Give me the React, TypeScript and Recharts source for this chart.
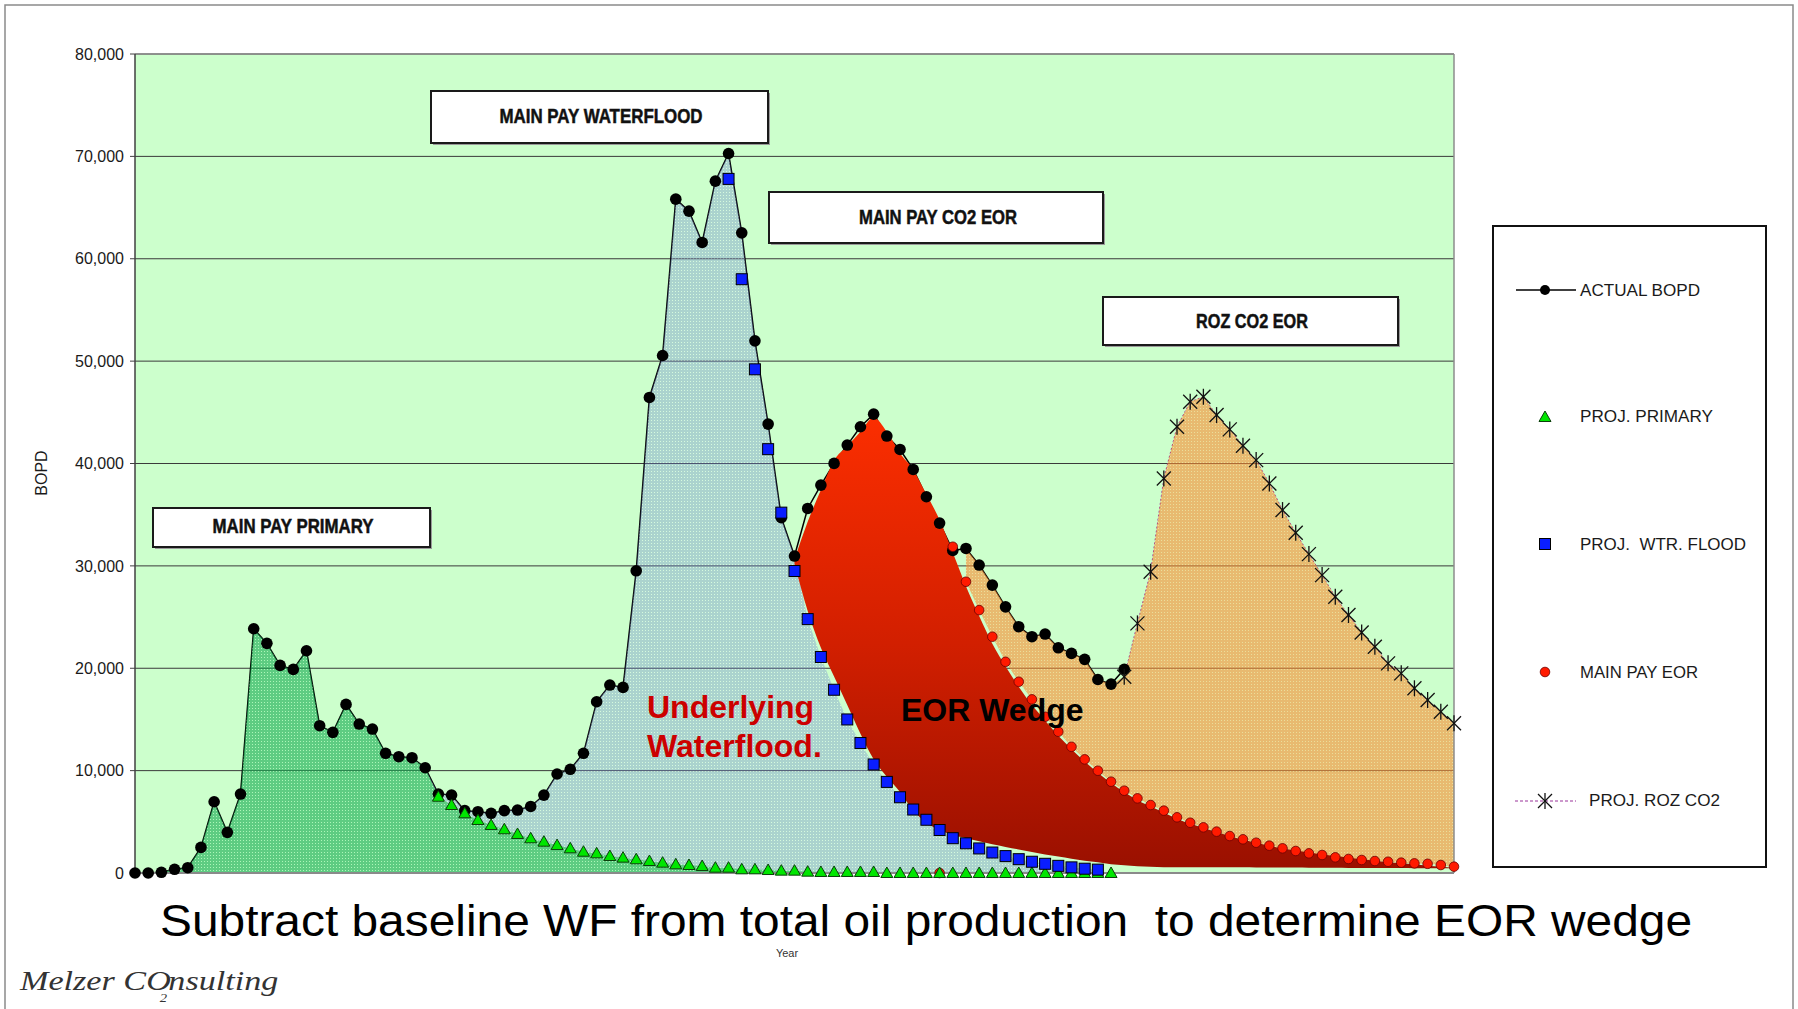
import React from "react";
import {
  Area,
  CartesianGrid,
  ComposedChart,
  Line,
  ReferenceLine,
  XAxis,
  YAxis,
} from "recharts";

const FONT = '"Liberation Sans", Arial, sans-serif';

// one point per period along the category axis
const PERIODS = Array.from({ length: 101 }, (_, i) => i);
const X_TICKS = [0, 5, 10, 15, 20, 25, 30, 35, 40, 45, 50, 55, 60, 65, 70, 75, 80, 85, 90, 95, 100];
const Y_TICKS = [0, 10000, 20000, 30000, 40000, 50000, 60000, 70000, 80000];

// ACTUAL BOPD, periods 0..75
const ACTUAL_START = 0;
const ACTUAL_BOPD = [
  0, 0, 70, 360, 520, 2500, 6960, 3970, 7710, 23860, 22430, 20280, 19890, 21710, 14390, 13740,
  16470, 14550, 14060, 11690, 11360, 11260, 10280, 7710, 7610, 6090, 5990, 5830, 6090, 6150, 6500,
  7610, 9670, 10130, 11690, 16730, 18360, 18130, 29520, 46450, 50550, 65820, 64650, 61590, 67580,
  70280, 62530, 51980, 43850, 34700, 30960, 35610, 37890, 40010, 41800, 43590, 44820, 42680, 41370,
  39420, 36750, 34180, 31500, 31700, 30080, 28120, 26000, 24060, 23080, 23340, 22000, 21450, 20870,
  18900, 18450, 19900,
];

// PROJ. PRIMARY, periods 23..74
const PRIMARY_START = 23;
const PROJ_PRIMARY = [
  7450, 6640, 5830, 5180, 4690, 4270, 3810, 3390, 3060, 2730, 2410, 2080, 1920, 1660, 1500, 1340,
  1170, 1010, 850, 780, 680, 520, 520, 360, 360, 290, 230, 230, 130, 100, 100, 100, 100, 100, 0, 0,
  0, 0, 0, 0, 0, 0, 0, 0, 0, 0, 0, 0, 0, 0, 0, 0,
];

// PROJ. WTR. FLOOD, periods 45..73
const WTR_FLOOD_START = 45;
const PROJ_WTR_FLOOD = [
  67800, 58000, 49200, 41400, 35200, 29500, 24800, 21100, 17900, 15000, 12700, 10600, 8900, 7400,
  6200, 5200, 4200, 3400, 2900, 2400, 2000, 1650, 1350, 1100, 900, 700, 550, 420, 330,
];

// MAIN PAY EOR, periods 61..100
const EOR_START = 61;
const MAIN_PAY_EOR = [
  0, 31870, 28450, 25680, 23080, 20630, 18680, 16960, 15260, 13800, 12330, 11100, 9990, 8920, 8040,
  7290, 6640, 6090, 5440, 4910, 4460, 4040, 3610, 3290, 2960, 2670, 2410, 2150, 1920, 1760, 1530,
  1370, 1270, 1170, 1100, 1010, 940, 900, 780, 620,
];

// PROJ. ROZ CO2, periods 75..100
const ROZ_START = 75;
const PROJ_ROZ_CO2 = [
  19170, 24380, 29430, 38540, 43590, 46030, 46520, 44730, 43330, 41730, 40330, 38050, 35450, 33230,
  31150, 29100, 26980, 25200, 23500, 22100, 20480, 19500, 18040, 16900, 15750, 14620,
];

// EOR wedge, lower and upper edge, periods 50..100
const WEDGE_START = 50;
const WEDGE_LOW = [
  30200, 25600, 22000, 19200, 16400, 13600, 11100, 9400, 7900, 6100, 4900, 4200, 3700, 3400, 3100,
  2800, 2550, 2300, 2050, 1800, 1600, 1400, 1200, 1050, 850, 750, 650, 600, 560, 560, 560, 550, 550,
  550, 550, 540, 540, 530, 530, 520, 520, 510, 500, 500, 490, 480, 480, 470, 470, 460, 460,
];
const WEDGE_HIGH = [
  30600, 34300, 37400, 40300, 41700, 43100, 44500, 43100, 41000, 39400, 37000, 34500, 31300, 28000,
  25100, 22400, 20200, 18200, 16400, 14900, 13400, 12100, 10900, 9800, 8800, 7900, 7100, 6500, 5900,
  5300, 4800, 4400, 4000, 3600, 3250, 2950, 2650, 2400, 2200, 2000, 1800, 1650, 1500, 1350, 1200,
  1050, 950, 850, 720, 600, 480,
];

// shaded bands switch from actual history to the projection here
const FLOOD_HANDOFF = 50;
const ROZ_BAND_START = 63;

const at = (arr: number[], start: number, i: number): number | null => {
  const v = arr[i - start];
  return v === undefined || i < start ? null : v;
};

const rows = PERIODS.map((i) => {
  const actual = at(ACTUAL_BOPD, ACTUAL_START, i);
  const primary = at(PROJ_PRIMARY, PRIMARY_START, i);
  const wf = at(PROJ_WTR_FLOOD, WTR_FLOOD_START, i);
  const eor = at(MAIN_PAY_EOR, EOR_START, i);
  const roz = at(PROJ_ROZ_CO2, ROZ_START, i);
  const lo = at(WEDGE_LOW, WEDGE_START, i);
  const hi = at(WEDGE_HIGH, WEDGE_START, i);

  const primaryTop = i < PRIMARY_START ? actual : primary;
  const floodTop = i <= FLOOD_HANDOFF ? actual : wf;
  const rozTop = i < ROZ_START ? actual : roz;

  return {
    i,
    actual,
    primary,
    wf,
    eor,
    roz,
    primaryBand: primaryTop,
    floodBand:
      i >= PRIMARY_START - 1 && floodTop != null ? [primaryTop ?? 0, floodTop] : null,
    rozBand: i >= ROZ_BAND_START && eor != null && rozTop != null ? [eor, rozTop] : null,
    wedge: lo != null && hi != null ? [lo, hi] : null,
  };
});

type Pt = { x: number; y: number };

const BlackDot = ({ x, y }: Pt) => <circle cx={x} cy={y} r={5.8} fill="#000" />;
const RedDot = ({ x, y }: Pt) => (
  <circle cx={x} cy={y} r={4.8} fill="#ff1a00" stroke="#6a0000" strokeWidth={0.8} />
);
const Triangle = ({ x, y }: Pt) => (
  <polygon
    points={`${x},${y - 6} ${x + 6},${y + 4.5} ${x - 6},${y + 4.5}`}
    fill="#00e600"
    stroke="#0b3f0b"
    strokeWidth={1}
  />
);
const Square = ({ x, y }: Pt) => (
  <rect x={x - 5.5} y={y - 5.5} width={11} height={11} fill="#0a1eff" stroke="#000" strokeWidth={1} />
);
const Asterisk = ({ x, y }: Pt) => (
  <g stroke="#111" strokeWidth={1.3} strokeDasharray="none">
    <line x1={x - 7} y1={y - 7} x2={x + 7} y2={y + 7} />
    <line x1={x - 7} y1={y + 7} x2={x + 7} y2={y - 7} />
    <line x1={x} y1={y - 8} x2={x} y2={y + 8} />
  </g>
);

const dotWith = (tag: string, Shape: (p: Pt) => React.ReactElement) => (p: any) => {
  const ok = p && p.value != null && typeof p.cy === "number" && Number.isFinite(p.cy);
  return <g key={`${tag}-${p?.index}`}>{ok ? <Shape x={p.cx} y={p.cy} /> : null}</g>;
};

const BOXES = [
  { label: "MAIN PAY WATERFLOOD", x: 431, y: 91, w: 337, h: 52, tx: 601, ty: 123, tl: 203 },
  { label: "MAIN PAY CO2 EOR", x: 769, y: 192, w: 334, h: 51, tx: 938, ty: 224, tl: 158 },
  { label: "ROZ CO2 EOR", x: 1103, y: 297, w: 295, h: 48, tx: 1252, ty: 328, tl: 112 },
  { label: "MAIN PAY PRIMARY", x: 153, y: 508, w: 277, h: 39, tx: 293, ty: 533, tl: 161 },
];

const LEGEND = [
  { label: "ACTUAL BOPD", y: 290, tx: 1580, tl: 120 },
  { label: "PROJ. PRIMARY", y: 416, tx: 1580, tl: 133 },
  { label: "PROJ.  WTR. FLOOD", y: 544, tx: 1580, tl: 166 },
  { label: "MAIN PAY EOR", y: 672, tx: 1580, tl: 118 },
  { label: "PROJ. ROZ CO2", y: 800, tx: 1589, tl: 131 },
];

function Overlay() {
  const mx = 1545;
  return (
    <svg
      width={1798}
      height={1009}
      style={{ position: "absolute", left: 0, top: 0, pointerEvents: "none" }}
      fontFamily={FONT}
    >
      <rect x={5} y={5} width={1788} height={1100} fill="none" stroke="#8a8a8a" strokeWidth={1.5} />

      <text
        transform="translate(41,473) rotate(-90)"
        textAnchor="middle"
        dominantBaseline="central"
        fontSize={16}
        fill="#1a1a1a"
      >
        BOPD
      </text>

      {BOXES.map((b) => (
        <g key={b.label}>
          <rect x={b.x + 2} y={b.y + 2} width={b.w} height={b.h} fill="#9a9a9a" />
          <rect x={b.x} y={b.y} width={b.w} height={b.h} fill="#fff" stroke="#1a1a1a" strokeWidth={2} />
          <text
            x={b.tx - b.tl / 2}
            y={b.ty}
            fontSize={20}
            fontWeight={700}
            fill="#111"
            stroke="#111"
            strokeWidth={0.5}
            textLength={b.tl}
            lengthAdjust="spacingAndGlyphs"
          >
            {b.label}
          </text>
        </g>
      ))}

      <g fontSize={32} fontWeight={700}>
        <text x={647} y={718} fill="#cc0000">
          Underlying
        </text>
        <text x={647} y={757} fill="#cc0000">
          Waterflood.
        </text>
        <text x={901} y={721} fill="#000">
          EOR Wedge
        </text>
      </g>

      <rect x={1493} y={226} width={273} height={641} fill="#fff" stroke="#111" strokeWidth={2} />
      <line x1={1516} y1={290} x2={1576} y2={290} stroke="#000" strokeWidth={1.3} />
      <circle cx={mx} cy={290} r={5} fill="#000" />
      <Triangle x={mx} y={417} />
      <Square x={mx} y={544} />
      <RedDot x={mx} y={672} />
      <line x1={1515} y1={801} x2={1576} y2={801} stroke="#993399" strokeWidth={1} strokeDasharray="3 2" />
      <Asterisk x={mx} y={801} />
      {LEGEND.map((l) => (
        <text
          key={l.label}
          x={l.tx}
          y={l.y + 6}
          fontSize={16}
          fill="#1a1a1a"
          textLength={l.tl}
          lengthAdjust="spacingAndGlyphs"
          xmlSpace="preserve"
          style={{ whiteSpace: "pre" }}
        >
          {l.label}
        </text>
      ))}

      {/* x-axis title, just under the caption line */}
      <text x={787} y={957} textAnchor="middle" fontSize={11} fill="#333">
        Year
      </text>
      <text
        x={160}
        y={936}
        fontSize={45}
        fill="#000"
        textLength={1532}
        lengthAdjust="spacingAndGlyphs"
        xmlSpace="preserve"
        style={{ whiteSpace: "pre" }}
      >
        Subtract baseline WF from total oil production  to determine EOR wedge
      </text>

      <text
        transform="translate(20,990) scale(1.22,1)"
        fontSize={28}
        fontStyle="italic"
        fontFamily='"Liberation Serif", serif'
        fill="#333"
      >
        Melzer CO
        <tspan fontSize={12} dx={-9} dy={12}>
          2
        </tspan>
        <tspan dx={1} dy={-12}>
          nsulting
        </tspan>
      </text>
    </svg>
  );
}

export default function App() {
  return (
    <div
      style={{
        position: "absolute",
        left: 0,
        top: 0,
        width: 1798,
        height: 1009,
        background: "#fff",
        overflow: "hidden",
      }}
    >
      <ComposedChart
        width={1798}
        height={1009}
        data={rows}
        margin={{ top: 54, right: 344, bottom: 106, left: 75 }}
      >
        <defs>
          <pattern id="dotsGreen" width={3} height={3} patternUnits="userSpaceOnUse">
            <rect width={3} height={3} fill="#14aa50" />
            <rect width={1} height={1} fill="#96f0aa" />
          </pattern>
          <pattern id="dotsBlue" width={3} height={3} patternUnits="userSpaceOnUse">
            <rect width={3} height={3} fill="#6e82d2" />
            <rect width={1} height={1} fill="#e6f0ff" />
          </pattern>
          <pattern id="dotsOrange" width={3} height={3} patternUnits="userSpaceOnUse">
            <rect width={3} height={3} fill="#fa8c32" />
            <rect width={1} height={1} fill="#ffc878" />
          </pattern>
          <linearGradient id="wedgeFill" x1="0" y1="0" x2="0" y2="1">
            <stop offset="0%" stopColor="#fb2e00" />
            <stop offset="50%" stopColor="#d21f00" />
            <stop offset="100%" stopColor="#9a1000" />
          </linearGradient>
        </defs>

        <CartesianGrid vertical={false} stroke="#3a3a3a" fill="#ccffcc" fillOpacity={1} />
        <XAxis
          type="number"
          dataKey="i"
          domain={[0, 100]}
          ticks={X_TICKS}
          tick={false}
          tickSize={6}
          height={30}
          axisLine={{ stroke: "#8a8a8a", strokeWidth: 2 }}
          tickLine={{ stroke: "#8a8a8a" }}
        />
        <YAxis
          domain={[0, 80000]}
          ticks={Y_TICKS}
          width={60}
          tickSize={5}
          tickMargin={6}
          tickFormatter={(v: number) => v.toLocaleString("en-US")}
          tick={{ fill: "#1a1a1a", fontSize: 16, fontFamily: FONT }}
          axisLine={{ stroke: "#404040", strokeWidth: 1.5 }}
          tickLine={{ stroke: "#404040" }}
        />
        <ReferenceLine y={80000} stroke="#8c8c8c" strokeWidth={1.5} />
        <ReferenceLine x={100} stroke="#8c8c8c" strokeWidth={1.5} />

        <Line
          dataKey="actual"
          type="linear"
          stroke="#000"
          strokeWidth={1.5}
          dot={dotWith("a", BlackDot)}
          activeDot={false}
          isAnimationActive={false}
          zIndex={110}
        />
        <Line
          dataKey="eor"
          stroke="none"
          dot={dotWith("e", RedDot)}
          activeDot={false}
          isAnimationActive={false}
          zIndex={120}
        />
        <Line
          dataKey="roz"
          type="linear"
          stroke="#993399"
          strokeWidth={1}
          strokeDasharray="2 2"
          dot={dotWith("r", Asterisk)}
          activeDot={false}
          isAnimationActive={false}
          zIndex={130}
        />

        <Area
          dataKey="primaryBand"
          type="linear"
          stroke="none"
          fill="url(#dotsGreen)"
          fillOpacity={0.6}
          activeDot={false}
          isAnimationActive={false}
          zIndex={140}
        />
        <Area
          dataKey="floodBand"
          type="linear"
          stroke="none"
          fill="url(#dotsBlue)"
          fillOpacity={0.35}
          activeDot={false}
          isAnimationActive={false}
          zIndex={150}
        />
        <Area
          dataKey="rozBand"
          type="linear"
          stroke="none"
          fill="url(#dotsOrange)"
          fillOpacity={0.6}
          activeDot={false}
          isAnimationActive={false}
          zIndex={160}
        />

        <Line
          dataKey="primary"
          stroke="none"
          dot={dotWith("p", Triangle)}
          activeDot={false}
          isAnimationActive={false}
          zIndex={170}
        />
        <Line
          dataKey="wf"
          stroke="none"
          dot={dotWith("w", Square)}
          activeDot={false}
          isAnimationActive={false}
          zIndex={180}
        />

        <Area
          dataKey="wedge"
          type="monotone"
          stroke="none"
          fill="url(#wedgeFill)"
          fillOpacity={1}
          activeDot={false}
          isAnimationActive={false}
          zIndex={190}
        />
      </ComposedChart>
      <Overlay />
    </div>
  );
}
